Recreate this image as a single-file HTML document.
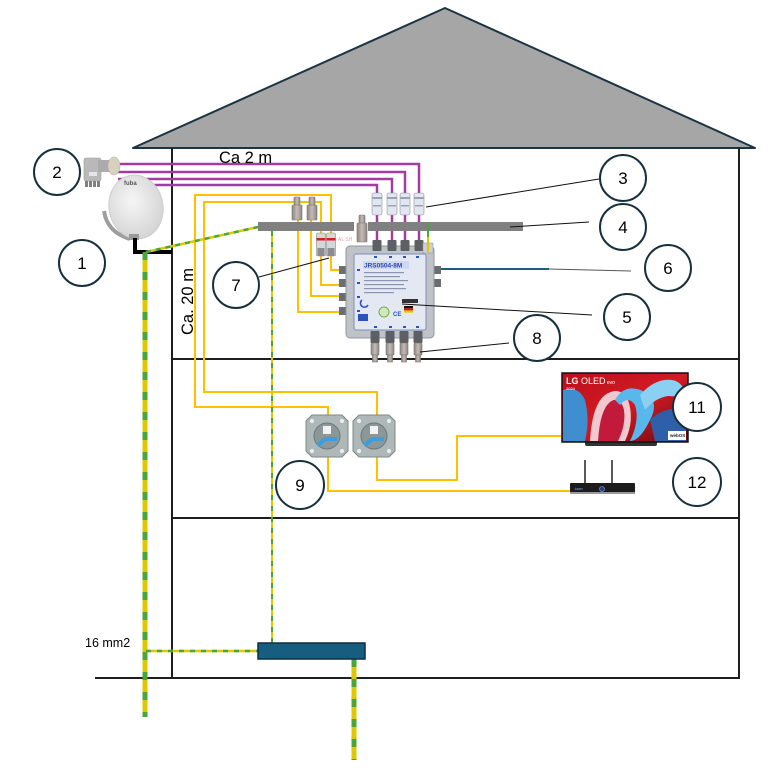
<!DOCTYPE html>
<html><head><meta charset="utf-8"><style>html,body{margin:0;padding:0;background:#fff}svg{display:block}</style></head>
<body>
<svg width="773" height="770" viewBox="0 0 773 770" xmlns="http://www.w3.org/2000/svg" font-family="'Liberation Sans', Arial, sans-serif">
<defs>
<radialGradient id="dishG" cx="0.45" cy="0.4" r="0.65"><stop offset="0" stop-color="#f6f6f6"/><stop offset="1" stop-color="#d2d2d2"/></radialGradient>
<linearGradient id="tvG" x1="0" y1="0" x2="1" y2="1"><stop offset="0" stop-color="#b8101c"/><stop offset="0.5" stop-color="#d41a22"/><stop offset="1" stop-color="#6a0a12"/></linearGradient>
<linearGradient id="fG" x1="0" y1="0" x2="1" y2="0"><stop offset="0" stop-color="#8d8581"/><stop offset="0.5" stop-color="#c4bcb8"/><stop offset="1" stop-color="#8d8581"/></linearGradient>
</defs>
<rect width="773" height="770" fill="#fff"/>

<!-- roof -->
<polygon points="133,148 445,8 755,148" fill="#a6a6a6" stroke="#1b3444" stroke-width="2" stroke-linejoin="round"/>

<!-- walls / floors -->
<g stroke="#1e1e1e" stroke-width="2" fill="none">
<line x1="172" y1="148" x2="172" y2="679"/>
<line x1="739" y1="148" x2="739" y2="679"/>
<line x1="172" y1="359" x2="739" y2="359"/>
<line x1="172" y1="518" x2="739" y2="518"/>
<line x1="95" y1="678" x2="740" y2="678"/>
</g>

<!-- yellow coax -->
<g fill="none" stroke="#ffc000" stroke-width="2">
<path d="M328,416 V407 H195 V195 H331 V270 H348"/>
<path d="M377,416 V392 H204 V202 H321 V285 H348"/>
<path d="M311,218 V296 H348"/>
<path d="M298,218 V312 H348"/>
<path d="M328,456 V491 H571"/>
<path d="M377,456 V480 H457 V436 H564"/>
</g>

<!-- magenta coax -->
<g fill="none" stroke="#a33ca0" stroke-width="2.5">
<path d="M118,164 H419 V243"/>
<path d="M118,172 H405 V243"/>
<path d="M118,179 H392 V243"/>
<path d="M118,185 H377 V243"/>
</g>

<!-- blue cable 6 -->
<line x1="435" y1="269" x2="549" y2="269" stroke="#1a5f80" stroke-width="2"/>

<!-- gray bar 4 -->
<rect x="258" y="222" width="96" height="9" fill="#808080"/>
<rect x="368" y="222" width="155" height="9" fill="#808080"/>

<!-- F connectors above bar -->
<g stroke="#7d7571" stroke-width="0.6" fill="url(#fG)">
<rect x="294" y="197" width="6" height="8" rx="1"/><rect x="292" y="205" width="10" height="15" rx="1"/>
<rect x="309" y="197" width="6" height="8" rx="1"/><rect x="307" y="205" width="10" height="15" rx="1"/>
<rect x="359" y="215" width="6" height="8" rx="1"/><rect x="357" y="223" width="10" height="19" rx="1"/>
</g>

<!-- filters 7 -->
<g>
<rect x="316.5" y="233" width="9" height="23" rx="1.5" fill="#d6d6d8" stroke="#8a8a8a" stroke-width="0.6"/>
<rect x="316.5" y="238" width="9" height="2.5" fill="#d02020"/>
<rect x="317.5" y="248" width="7" height="8" fill="#8c8c90"/>
<rect x="326.5" y="233" width="9" height="23" rx="1.5" fill="#d6d6d8" stroke="#8a8a8a" stroke-width="0.6"/>
<rect x="326.5" y="238" width="9" height="2.5" fill="#d02020"/>
<rect x="327.5" y="248" width="7" height="8" fill="#8c8c90"/>
<text x="338" y="241" font-size="5" fill="#e8a0a0">AL SH</text>
</g>

<!-- multiswitch -->
<g>
<rect x="339" y="266" width="9" height="8" fill="#6a6e72"/>
<rect x="339" y="279" width="9" height="8" fill="#6a6e72"/>
<rect x="339" y="293" width="9" height="8" fill="#6a6e72"/>
<rect x="339" y="307" width="9" height="8" fill="#6a6e72"/>
<rect x="432" y="266" width="9" height="8" fill="#6a6e72"/>
<rect x="432" y="279" width="9" height="8" fill="#6a6e72"/>
<rect x="346" y="246" width="88" height="92" rx="4" fill="#bfc3c7" stroke="#9097a0" stroke-width="1"/>
<rect x="354" y="254" width="72" height="76" rx="2" fill="#e3e8f2" stroke="#7d8fb8" stroke-width="1"/>
<rect x="372.5" y="240" width="9" height="11" rx="1" fill="#5c6064"/>
<rect x="387.5" y="240" width="9" height="11" rx="1" fill="#5c6064"/>
<rect x="400.5" y="240" width="9" height="11" rx="1" fill="#5c6064"/>
<rect x="414.5" y="240" width="9" height="11" rx="1" fill="#5c6064"/>
<rect x="423" y="243" width="10" height="10" fill="#cdd0d4" stroke="#999" stroke-width="0.6"/>
<rect x="370.5" y="331" width="9" height="12" rx="1" fill="#5c6064"/>
<rect x="385.5" y="331" width="9" height="12" rx="1" fill="#5c6064"/>
<rect x="399.5" y="331" width="9" height="12" rx="1" fill="#5c6064"/>
<rect x="413.5" y="331" width="9" height="12" rx="1" fill="#5c6064"/>
<g fill="url(#fG)" stroke="#7d7571" stroke-width="0.6">
<rect x="371" y="343" width="8" height="12" rx="1"/><rect x="372.5" y="355" width="5" height="7"/>
<rect x="386" y="343" width="8" height="12" rx="1"/><rect x="387.5" y="355" width="5" height="7"/>
<rect x="400" y="343" width="8" height="12" rx="1"/><rect x="401.5" y="355" width="5" height="7"/>
<rect x="414" y="343" width="8" height="12" rx="1"/><rect x="415.5" y="355" width="5" height="7"/>
</g>
<g fill="#2a52c0">
<rect x="374" y="256" width="3" height="2"/><rect x="389" y="256" width="3" height="2"/><rect x="403" y="256" width="3" height="2"/><rect x="416" y="256" width="3" height="2"/>
<rect x="357" y="269" width="3" height="2"/><rect x="357" y="282" width="3" height="2"/><rect x="357" y="296" width="3" height="2"/><rect x="357" y="310" width="3" height="2"/>
<rect x="374" y="326" width="3" height="2"/><rect x="389" y="326" width="3" height="2"/><rect x="403" y="326" width="3" height="2"/><rect x="416" y="326" width="3" height="2"/>
</g>
<rect x="363" y="261" width="46" height="8" fill="#cfd8f0"/>
<text x="364" y="267.5" font-size="6.5" font-weight="bold" fill="#2a46b0">JRS0504-8M</text>
<g fill="#8a96b4">
<rect x="364" y="272" width="40" height="1.2"/><rect x="364" y="276" width="36" height="1.2"/>
<rect x="364" y="280" width="44" height="1.2"/><rect x="364" y="284" width="40" height="1.2"/>
<rect x="364" y="288" width="42" height="1.2"/><rect x="364" y="292" width="30" height="1.2"/>
</g>
<rect x="402" y="299" width="16" height="4" fill="#333"/>
<path d="M362,300 a4,4 0 1,0 6,5" fill="none" stroke="#2a52c0" stroke-width="1.5"/>
<rect x="358" y="314" width="10" height="7" fill="#2a52c0"/>
<circle cx="384" cy="312" r="5" fill="#cfe8c0" stroke="#6cb04a" stroke-width="1"/>
<text x="393" y="316" font-size="6" font-weight="bold" fill="#2a52c0">CE</text>
<rect x="404" y="306" width="9" height="2.2" fill="#111"/><rect x="404" y="308.2" width="9" height="2.2" fill="#d01010"/><rect x="404" y="310.4" width="9" height="2.2" fill="#f0c000"/>
</g>

<!-- filters 3 -->
<g>
<rect x="372" y="193" width="10" height="22" rx="2" fill="#e2e6ee" stroke="#8a92a2" stroke-width="0.6"/>
<rect x="387" y="193" width="10" height="22" rx="2" fill="#e2e6ee" stroke="#8a92a2" stroke-width="0.6"/>
<rect x="400" y="193" width="10" height="22" rx="2" fill="#e2e6ee" stroke="#8a92a2" stroke-width="0.6"/>
<rect x="414" y="193" width="10" height="22" rx="2" fill="#e2e6ee" stroke="#8a92a2" stroke-width="0.6"/>
<g fill="#9aa4b8">
<rect x="372" y="197" width="10" height="2"/><rect x="387" y="197" width="10" height="2"/><rect x="400" y="197" width="10" height="2"/><rect x="414" y="197" width="10" height="2"/>
<rect x="373" y="205" width="8" height="1.5"/><rect x="388" y="205" width="8" height="1.5"/><rect x="401" y="205" width="8" height="1.5"/><rect x="415" y="205" width="8" height="1.5"/>
</g>
</g>

<!-- LNB -->
<g>
<rect x="84" y="158" width="17" height="23" rx="2" fill="#b9b9b9" stroke="#9a9a9a" stroke-width="0.6"/>
<rect x="98" y="160" width="13" height="12" fill="#ababab"/>
<ellipse cx="114" cy="166" rx="6" ry="9" fill="#d9d1bf" stroke="#bdb5a3" stroke-width="0.6"/>
<rect x="89" y="172" width="8" height="4" fill="#e6e6e6"/>
<g fill="#808080"><rect x="85" y="181" width="3" height="6"/><rect x="89" y="181" width="3" height="6"/><rect x="93" y="181" width="3" height="6"/><rect x="97" y="181" width="3" height="6"/></g>
</g>

<!-- dish -->
<g>
<path d="M104,211 Q107,232 130,239" fill="none" stroke="#9e9e9e" stroke-width="4"/>
<ellipse cx="136" cy="207" rx="27" ry="32" transform="rotate(-10 136 207)" fill="url(#dishG)" stroke="#cdcdcd" stroke-width="1"/>
<text x="124" y="185" font-size="6" font-weight="bold" fill="#555">fuba</text>
<rect x="129" y="234" width="10" height="6" fill="#9a9a9a"/>
</g>
<path d="M135,238 V252 H172" fill="none" stroke="#000" stroke-width="4"/>

<!-- wall sockets 9 -->
<g>
<g transform="translate(306,415)">
<path d="M6,0 H36 L42,6 V36 L36,42 H6 L0,36 V6 Z" fill="#aeb8b8" stroke="#7c8888" stroke-width="1"/>
<circle cx="6" cy="6" r="2" fill="#eee"/><circle cx="36" cy="6" r="2" fill="#eee"/><circle cx="6" cy="36" r="2" fill="#eee"/><circle cx="36" cy="36" r="2" fill="#eee"/>
<circle cx="21" cy="21" r="13" fill="#8c9898" stroke="#6c7878"/>
<rect x="17" y="11" width="8" height="8" fill="#f2f2f2"/>
<path d="M10,29 L18,22 H31 V26 H20 L13,32 Z" fill="#3a9ee0"/>
</g>
<g transform="translate(353,415)">
<path d="M6,0 H36 L42,6 V36 L36,42 H6 L0,36 V6 Z" fill="#aeb8b8" stroke="#7c8888" stroke-width="1"/>
<circle cx="6" cy="6" r="2" fill="#eee"/><circle cx="36" cy="6" r="2" fill="#eee"/><circle cx="6" cy="36" r="2" fill="#eee"/><circle cx="36" cy="36" r="2" fill="#eee"/>
<circle cx="21" cy="21" r="13" fill="#8c9898" stroke="#6c7878"/>
<rect x="17" y="11" width="8" height="8" fill="#f2f2f2"/>
<path d="M10,29 L18,22 H31 V26 H20 L13,32 Z" fill="#3a9ee0"/>
</g>
</g>

<!-- TV -->
<g>
<rect x="585" y="441" width="72" height="5" rx="2" fill="#333"/>
<rect x="562" y="373" width="126" height="69" fill="url(#tvG)" stroke="#111" stroke-width="1.5"/>
<path d="M563,390 Q578,385 585,400 Q590,420 585,441 H563 Z" fill="#3f8fd0"/>
<path d="M590,441 Q592,405 605,395 Q620,385 628,400 Q635,420 625,441 Z" fill="#f0c8d0"/>
<path d="M598,441 Q600,410 610,402 Q620,395 624,410 Q626,425 618,441 Z" fill="#c21a3a"/>
<path d="M615,400 Q625,382 645,392 Q660,402 650,420 Q640,441 630,441 Q640,420 635,405 Q628,395 620,405 Z" fill="#58b8ec"/>
<path d="M640,395 Q655,378 672,380 Q685,382 686,400 Q680,396 668,396 Q655,398 645,410 Z" fill="#8ad0f2"/>
<path d="M650,420 Q665,405 686,410 V441 H655 Z" fill="#2e5fa8"/>
<text x="566" y="384" font-size="9" fill="#fff"><tspan font-weight="bold">LG</tspan> OLED<tspan font-size="5"> evo</tspan></text>
<text x="566" y="390" font-size="4" fill="#fff">2024</text>
<rect x="668" y="431" width="18" height="9" fill="#fff"/>
<text x="670" y="437" font-size="4.5" font-weight="bold" fill="#222">webOS</text>
</g>

<!-- receiver -->
<g>
<line x1="585" y1="460" x2="585" y2="484" stroke="#222" stroke-width="1.5"/>
<line x1="612" y1="460" x2="612" y2="484" stroke="#222" stroke-width="1.5"/>
<rect x="570" y="483" width="65" height="10" rx="1" fill="#1c1c1c"/>
<rect x="570" y="492" width="65" height="2" fill="#9a9a9a"/>
<circle cx="602" cy="489" r="2.5" fill="#2a3c80" stroke="#8aa0e0" stroke-width="0.6"/>
<text x="575" y="490" font-size="3.5" fill="#8ab4ff">kaon</text>
</g>

<!-- green/yellow earthing -->
<g fill="none">
<line x1="145" y1="252" x2="145" y2="717" stroke="#e0c800" stroke-width="5"/>
<line x1="145" y1="252" x2="145" y2="717" stroke="#4aa63a" stroke-width="5" stroke-dasharray="8 12"/>
<line x1="146" y1="252" x2="258" y2="227" stroke="#e0c800" stroke-width="2.5"/>
<line x1="146" y1="252" x2="258" y2="227" stroke="#4aa63a" stroke-width="2.5" stroke-dasharray="5 5"/>
<line x1="272" y1="231" x2="272" y2="643" stroke="#e0c800" stroke-width="2"/>
<line x1="272" y1="231" x2="272" y2="643" stroke="#4aa63a" stroke-width="2" stroke-dasharray="5 6"/>
<line x1="146" y1="651" x2="258" y2="651" stroke="#e0c800" stroke-width="2.5"/>
<line x1="146" y1="651" x2="258" y2="651" stroke="#4aa63a" stroke-width="2.5" stroke-dasharray="5 6"/>
<line x1="354" y1="659" x2="354" y2="760" stroke="#e0c800" stroke-width="5"/>
<line x1="354" y1="659" x2="354" y2="760" stroke="#4aa63a" stroke-width="5" stroke-dasharray="8 12"/>
<line x1="428" y1="222" x2="428" y2="237" stroke="#4aa63a" stroke-width="2"/>
<line x1="428" y1="237" x2="428" y2="252" stroke="#e0c800" stroke-width="2"/>
</g>
<rect x="258" y="643" width="107" height="16" fill="#175d80" stroke="#0f2f40" stroke-width="1.5"/>

<!-- leader lines -->
<g stroke="#111" stroke-width="1" fill="none">
<line x1="599" y1="179" x2="426" y2="207"/>
<line x1="589" y1="222" x2="510" y2="227"/>
<line x1="592" y1="315" x2="402" y2="304"/>
<line x1="631" y1="271" x2="549" y2="269" stroke="#555"/>
<line x1="259" y1="277" x2="329" y2="258"/>
<line x1="509" y1="343" x2="420" y2="352"/>
</g>

<!-- numbered circles -->
<g fill="#fff" stroke="#17303d" stroke-width="2">
<circle cx="82" cy="263" r="23"/>
<circle cx="57" cy="172" r="23"/>
<circle cx="623" cy="178" r="23"/>
<circle cx="623" cy="227" r="23"/>
<circle cx="627" cy="317" r="23"/>
<circle cx="668" cy="268" r="23"/>
<circle cx="236" cy="285" r="23"/>
<circle cx="537" cy="338" r="23"/>
<circle cx="300" cy="485" r="24"/>
<circle cx="697" cy="407" r="24"/>
<circle cx="697" cy="482" r="24"/>
</g>
<g font-size="17" fill="#000" text-anchor="middle">
<text x="82" y="269">1</text>
<text x="57" y="178">2</text>
<text x="623" y="184">3</text>
<text x="623" y="233">4</text>
<text x="627" y="323">5</text>
<text x="668" y="274">6</text>
<text x="236" y="291">7</text>
<text x="537" y="344">8</text>
<text x="300" y="491">9</text>
<text x="697" y="413">11</text>
<text x="697" y="488">12</text>
</g>

<!-- labels -->
<text x="219" y="163" font-size="16.5" fill="#000">Ca 2 m</text>
<text transform="translate(193,335) rotate(-90)" font-size="16.5" fill="#000">Ca. 20 m</text>
<text x="85" y="647" font-size="12.5" fill="#000">16 mm2</text>
</svg>
</body></html>
